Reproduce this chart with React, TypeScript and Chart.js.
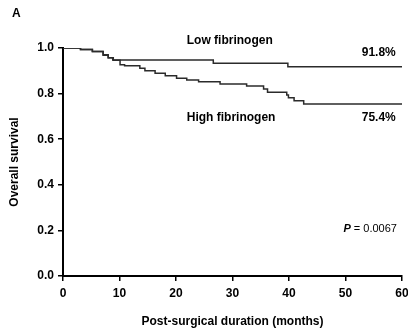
import React, { useEffect, useRef } from "react";
import { Chart, registerables } from "chart.js";

Chart.register(...registerables);

// Kaplan–Meier step data (months, survival proportion)
const lowTimes = [0, 3.1, 5.2, 7.1, 8.0, 8.8, 26.6, 39.8, 60];
const lowSurvival = [1.0, 0.993, 0.985, 0.97, 0.957, 0.947, 0.933, 0.918, 0.918];

const highTimes = [0, 3.1, 5.2, 7.1, 8.0, 8.9, 10.1, 10.9, 13.6, 14.5, 16.3, 18.1, 20.1, 21.9, 24.0, 27.8, 32.5, 35.5, 36.2, 39.6, 39.9, 40.9, 42.6, 60];
const highSurvival = [1.0, 0.993, 0.985, 0.968, 0.957, 0.946, 0.927, 0.922, 0.911, 0.9, 0.889, 0.878, 0.867, 0.86, 0.852, 0.842, 0.833, 0.82, 0.806, 0.794, 0.782, 0.769, 0.754, 0.754];

const xTickValues = [0, 10, 20, 30, 40, 50, 60];
const yTickValues = [0, 0.2, 0.4, 0.6, 0.8, 1.0];

const panelLabel = "A";
const lowLabel = "Low fibrinogen";
const highLabel = "High fibrinogen";
const lowPct = "91.8%";
const highPct = "75.4%";
const pLabel = "P";
const pValue = " = 0.0067";
const xTitle = "Post-surgical duration (months)";
const yTitle = "Overall survival";

const FONT = "'Liberation Sans', Arial, sans-serif";

const textPlugin = {
  id: "kmText",
  afterDraw(chart: any) {
    const { ctx, scales } = chart;
    const xs = scales.x;
    const ys = scales.y;
    ctx.save();
    ctx.fillStyle = "#000";
    ctx.textBaseline = "middle";
    ctx.font = `bold 12px ${FONT}`;
    ctx.textAlign = "left";
    ctx.fillText(panelLabel, 12, 14);

    ctx.fillText(lowLabel, xs.getPixelForValue(21.9), ys.getPixelForValue(1.03));
    ctx.fillText(highLabel, xs.getPixelForValue(21.9), ys.getPixelForValue(0.693));
    ctx.textAlign = "right";
    ctx.fillText(lowPct, xs.getPixelForValue(58.9), ys.getPixelForValue(0.978));
    ctx.fillText(highPct, xs.getPixelForValue(58.9), ys.getPixelForValue(0.693));

    // P value
    const pr = xs.getPixelForValue(59.1);
    const py = ys.getPixelForValue(0.206);
    ctx.font = `11px ${FONT}`;
    const wv = ctx.measureText(pValue).width;
    ctx.fillText(pValue, pr, py);
    ctx.font = `italic bold 11px ${FONT}`;
    ctx.fillText(pLabel, pr - wv, py);
    ctx.restore();
  },
};

export default function App() {
  const ref = useRef<HTMLCanvasElement | null>(null);
  useEffect(() => {
    if (!ref.current) return;
    const tickFont = { family: FONT, size: 12, weight: "bold" as const };
    const chart = new Chart(ref.current, {
      type: "line",
      data: {
        datasets: [
          {
            label: lowLabel,
            data: lowTimes.map((t, i) => ({ x: t, y: lowSurvival[i] })),
            borderColor: "#2b2b2b",
            borderWidth: 1.5,
            pointRadius: 0,
            stepped: "before",
            fill: false,
          },
          {
            label: highLabel,
            data: highTimes.map((t, i) => ({ x: t, y: highSurvival[i] })),
            borderColor: "#2b2b2b",
            borderWidth: 1.5,
            pointRadius: 0,
            stepped: "before",
            fill: false,
          },
        ],
      },
      options: {
        animation: false,
        responsive: false,
        devicePixelRatio: 1,
        layout: { padding: { left: 0, right: 6, top: 48, bottom: 0 } },
        plugins: { legend: { display: false }, tooltip: { enabled: false } },
        scales: {
          x: {
            type: "linear",
            min: 0,
            max: 60,
            afterBuildTicks: (s: any) => {
              s.ticks = xTickValues.map((v) => ({ value: v }));
            },
            afterFit: (s: any) => {
              s.height = 58;
              s.paddingLeft = 0;
              s.paddingRight = 0;
            },
            ticks: { font: tickFont, color: "#000", padding: 5, maxRotation: 0 },
            grid: { drawOnChartArea: false, drawTicks: true, tickLength: 5, color: "#000", lineWidth: 1.5 },
            border: { display: true, color: "#000", width: 2 },
            title: {
              display: true,
              text: xTitle,
              color: "#000",
              font: { family: FONT, size: 12, weight: "bold" },
              padding: { top: 0, bottom: 5 },
            },
          },
          y: {
            type: "linear",
            min: 0,
            max: 1,
            afterBuildTicks: (s: any) => {
              s.ticks = yTickValues.map((v) => ({ value: v }));
            },
            afterFit: (s: any) => {
              s.width = 63;
              s.paddingTop = 0;
              s.paddingBottom = 0;
            },
            ticks: {
              font: tickFont,
              color: "#000",
              padding: 4,
              callback: (v: any) => Number(v).toFixed(1),
            },
            grid: { drawOnChartArea: false, drawTicks: true, tickLength: 5, color: "#000", lineWidth: 1.5 },
            border: { display: true, color: "#000", width: 2 },
            title: {
              display: true,
              text: yTitle,
              color: "#000",
              font: { family: FONT, size: 12, weight: "bold" },
              padding: { top: 7, bottom: 0 },
            },
          },
        },
      },
      plugins: [textPlugin],
    });
    return () => chart.destroy();
  }, []);
  return (
    <div style={{ position: "absolute", left: 0, top: 0, width: 408, height: 334, background: "#fff" }}>
      <canvas ref={ref} width={408} height={334} style={{ display: "block" }} />
    </div>
  );
}
